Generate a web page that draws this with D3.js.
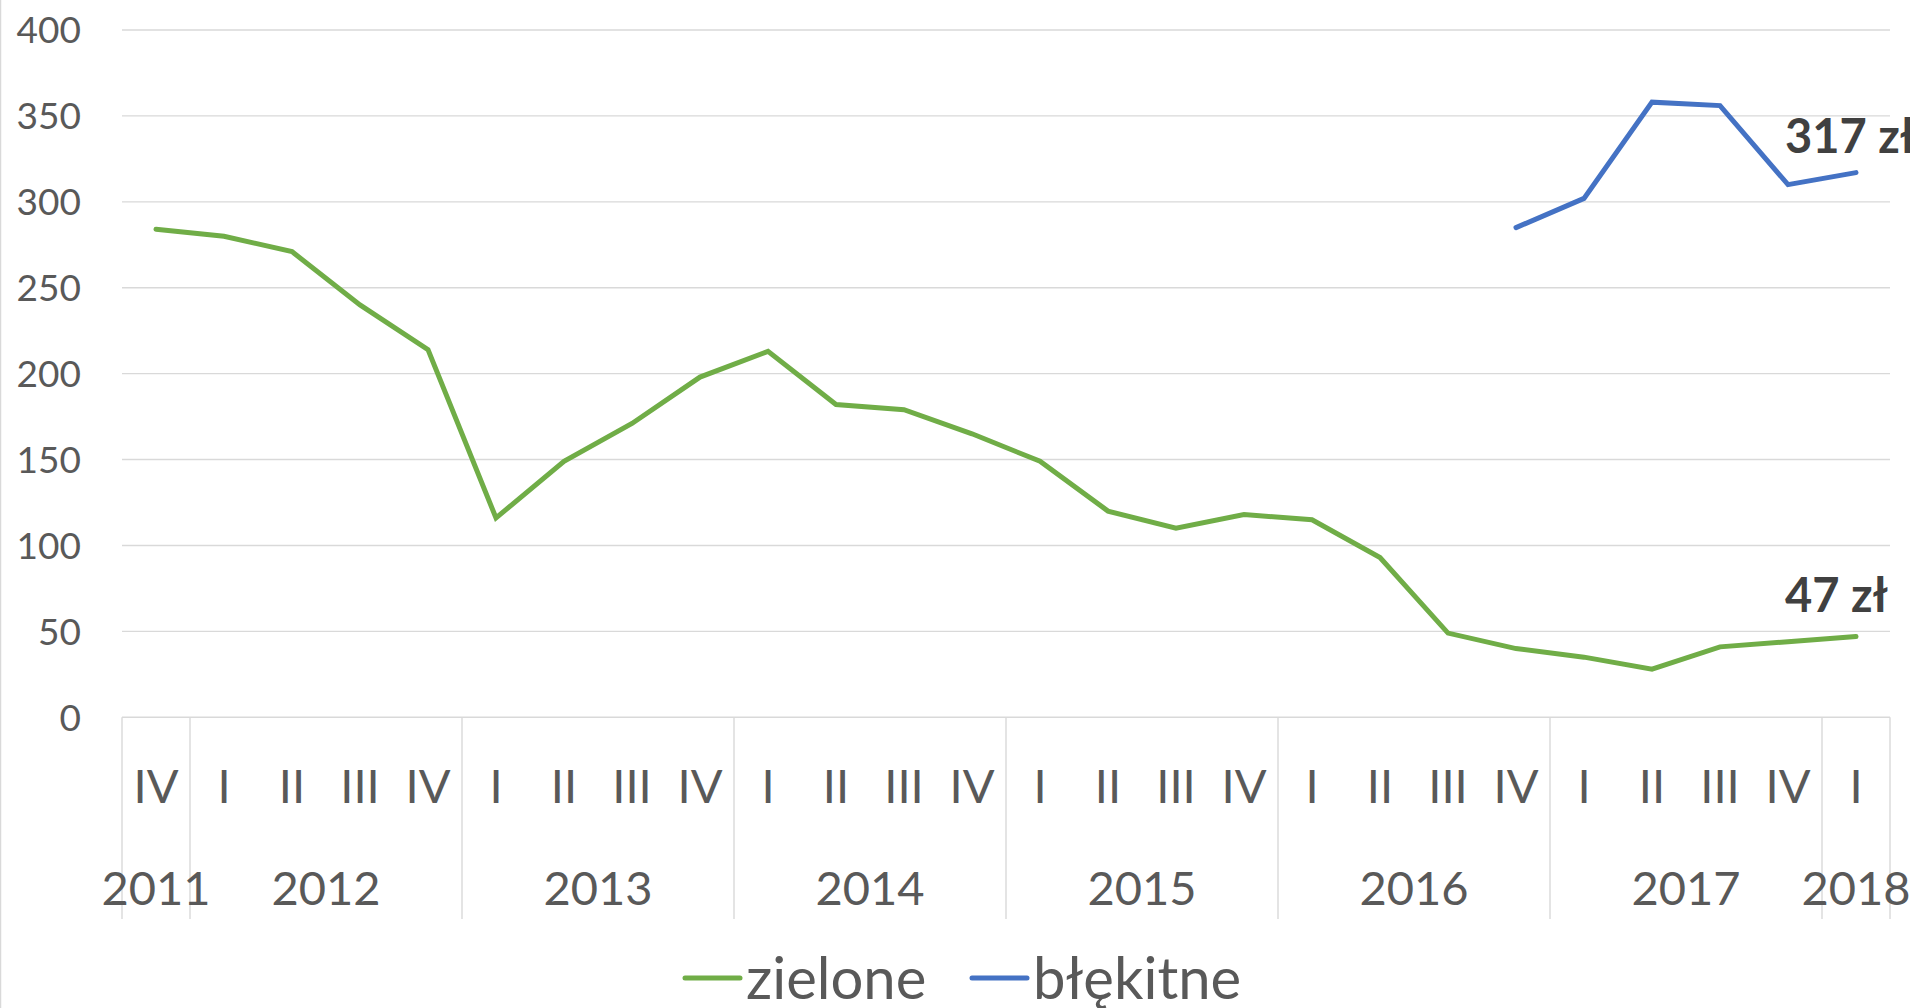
<!DOCTYPE html>
<html><head><meta charset="utf-8">
<script src="https://cdnjs.cloudflare.com/ajax/libs/d3/7.8.5/d3.min.js"></script>
<style>html,body{margin:0;padding:0;background:#fff;}svg{display:block;}</style>
</head><body>
<script>
const quarterLabels = ["IV","I","II","III","IV","I","II","III","IV","I","II","III","IV","I","II","III","IV","I","II","III","IV","I","II","III","IV","I"];
const yearLabels = ["2011","2012","2013","2014","2015","2016","2017","2018"];
const yearQuarterCounts = [1,4,4,4,4,4,4,1];
const zielone = [284,280,271,240,214,116,149,171,198,213,182,179,165,149,120,110,118,115,93,49,40,35,28,41,44,47];
const blekitne = [null,null,null,null,null,null,null,null,null,null,null,null,null,null,null,null,null,null,null,null,285,302,358,356,310,317];
const yTicks = [0,50,100,150,200,250,300,350,400];
const seriesNames = ["zielone","błękitne"];
const endLabels = ["47 zł","317 zł"];

(function(){
const W = 1917, H = 1008;
const pL = 122, pR = 1890, pT = 30, pB = 717.3;
const colors = ["#70ad47","#4472c4"];
const font = "Lato, 'Open Sans', sans-serif";

const svg = d3.select("body").append("svg").attr("width", W).attr("height", H);
svg.append("rect").attr("width", W).attr("height", H).attr("fill", "#fff");
svg.append("line").attr("x1",0.5).attr("x2",0.5).attr("y1",0).attr("y2",H).attr("stroke","#d9d9d9").attr("stroke-width",1.5);

const x = d3.scaleBand().domain(d3.range(quarterLabels.length)).range([pL, pR]).padding(0);
const y = d3.scaleLinear().domain([0, 400]).range([pB, pT]);
const cx = i => x(i) + x.bandwidth() / 2;

svg.append("g").selectAll("line").data(yTicks).join("line")
  .attr("x1", pL).attr("x2", pR)
  .attr("y1", d => y(d)).attr("y2", d => y(d))
  .attr("stroke", "#d9d9d9").attr("stroke-width", 1.4);

svg.append("g").selectAll("text").data(yTicks).join("text")
  .attr("x", 81).attr("y", d => y(d)).attr("dy", "0.36em")
  .attr("text-anchor", "end").attr("font-family", font).attr("font-size", 37)
  .attr("fill", "#595959").text(d => d);

const bounds = [0];
yearQuarterCounts.forEach(c => bounds.push(bounds[bounds.length-1] + c));
svg.append("g").selectAll("line").data(bounds).join("line")
  .attr("x1", d => d < quarterLabels.length ? x(d) : pR)
  .attr("x2", d => d < quarterLabels.length ? x(d) : pR)
  .attr("y1", pB).attr("y2", 919)
  .attr("stroke", "#d9d9d9").attr("stroke-width", 1.4);

svg.append("g").selectAll("text").data(quarterLabels).join("text")
  .attr("x", (d, i) => cx(i)).attr("y", 786).attr("dy", "0.36em")
  .attr("text-anchor", "middle").attr("font-family", font).attr("font-size", 47)
  .attr("fill", "#595959").text(d => d);

svg.append("g").selectAll("text").data(yearLabels).join("text")
  .attr("x", (d, i) => {
    const a = x(bounds[i]);
    const b = bounds[i+1] < quarterLabels.length ? x(bounds[i+1]) : pR;
    return (a + b) / 2;
  })
  .attr("y", 888).attr("dy", "0.36em")
  .attr("text-anchor", "middle").attr("font-family", font).attr("font-size", 47)
  .attr("fill", "#595959").text(d => d);

const line = d3.line().defined(d => d != null).x((d, i) => cx(i)).y(d => y(d));
[zielone, blekitne].forEach((s, k) => {
  svg.append("path").datum(s).attr("d", line)
    .attr("fill", "none").attr("stroke", colors[k]).attr("stroke-width", 5)
    .attr("stroke-linejoin", "miter").attr("stroke-linecap", "round");
});

svg.append("clipPath").attr("id","clip").append("rect").attr("x",0).attr("y",0).attr("width",1910).attr("height",H);
const lastIdx = quarterLabels.length - 1;
[[zielone, -25, endLabels[0]], [blekitne, -20, endLabels[1]]].forEach(([s, dy, t]) => {
  svg.append("text").attr("clip-path","url(#clip)")
    .attr("x", cx(lastIdx) - 71).attr("y", y(s[lastIdx]) + dy)
    .attr("font-family", font).attr("font-weight", "bold").attr("font-size", 47)
    .attr("fill", "#404040").text(t);
});

const legendX = [685, 972];
seriesNames.forEach((n, k) => {
  const g = svg.append("g").attr("transform", `translate(${legendX[k]},978)`);
  g.append("line").attr("x1", 0).attr("x2", 55).attr("y1", 0).attr("y2", 0)
    .attr("stroke", colors[k]).attr("stroke-width", 5).attr("stroke-linecap", "round");
  g.append("text").attr("x", 61).attr("y", 0).attr("dy", "0.36em")
    .attr("font-family", font).attr("font-size", 58).attr("fill", "#595959").text(n);
});
})();
</script>
</body></html>
